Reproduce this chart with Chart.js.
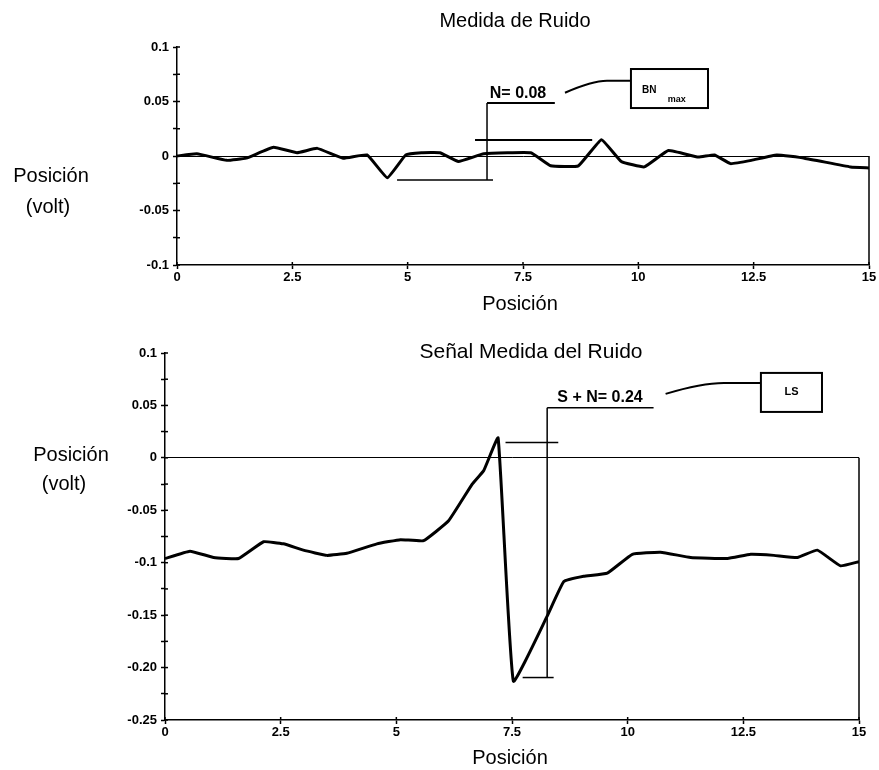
<!DOCTYPE html>
<html>
<head>
<meta charset="utf-8">
<script src="https://cdn.jsdelivr.net/npm/chart.js@4.4.1/dist/chart.umd.min.js"></script>
<style>
  body { margin: 0; background: #fff; }
  #wrap { position: relative; width: 879px; height: 770px; }
  canvas { position: absolute; left: 0; }
</style>
</head>
<body>
<div id="wrap">
  <canvas id="ruido" width="879" height="330" style="top:0"></canvas>
  <canvas id="senal" width="879" height="440" style="top:330px"></canvas>
</div>
<script>
// Medida de Ruido: posicion y lectura (volt)
var ruidoPos  = [0, 0.43, 1.08, 1.5, 2.09, 2.6, 3.04, 3.6, 4.12, 4.56, 4.96, 5.3, 5.7, 6.1, 6.65, 7.67, 8.1, 8.7, 9.2, 9.63, 10.13, 10.65, 11.3, 11.65, 12.0, 12.45, 13.0, 13.6, 14.6, 15];
var ruidoVolt = [0, 0.002, -0.004, -0.002, 0.008, 0.003, 0.007, -0.002, 0.001, -0.02, 0.001, 0.003, 0.003, -0.005, 0.002, 0.003, -0.009, -0.009, 0.015, -0.005, -0.01, 0.005, -0.001, 0.001, -0.007, -0.004, 0.001, -0.002, -0.01, -0.011];

// Señal Medida del Ruido
var senalPos  = [0, 0.54, 1.05, 1.59, 2.13, 2.56, 2.99, 3.5, 3.93, 4.58, 5.09, 5.59, 6.13, 6.64, 6.89, 7.2, 7.53, 8.26, 8.62, 9.05, 9.56, 10.1, 10.71, 11.36, 12.16, 12.66, 13.16, 13.67, 14.1, 14.6, 15];
var senalVolt = [-0.096, -0.089, -0.095, -0.096, -0.08, -0.082, -0.088, -0.093, -0.091, -0.082, -0.078, -0.079, -0.06, -0.025, -0.012, 0.019, -0.213, -0.151, -0.118, -0.113, -0.11, -0.092, -0.09, -0.095, -0.096, -0.092, -0.093, -0.095, -0.088, -0.103, -0.099];

// etiquetas de los ejes
var xTicks = [0, 2.5, 5, 7.5, 10, 12.5, 15];
var xTickLabels = ['0', '2.5', '5', '7.5', '10', '12.5', '15'];
var ruidoYTicks = [0.1, 0.05, 0, -0.05, -0.1];
var ruidoYTickLabels = ['0.1', '0.05', '0', '-0.05', '-0.1'];
var senalYTicks = [0.1, 0.05, 0, -0.05, -0.1, -0.15, -0.2, -0.25];
var senalYTickLabels = ['0.1', '0.05', '0', '-0.05', '-0.1', '-0.15', '-0.20', '-0.25'];

var FAMILY = '"Liberation Sans", Arial, sans-serif';
var tickFont = { family: FAMILY, size: 13, weight: 'bold' };

function etiqueta(valores, textos) {
  return function(value) {
    for (var i = 0; i < valores.length; i++) {
      if (Math.abs(valores[i] - value) < 1e-9) return textos[i];
    }
    return '';
  };
}

function seg(ctx, x1, y1, x2, y2, w) {
  ctx.lineWidth = w;
  ctx.beginPath();
  ctx.moveTo(x1, y1);
  ctx.lineTo(x2, y2);
  ctx.stroke();
}

function texto(ctx, t, x, y, font, align, base) {
  ctx.font = font;
  ctx.textAlign = align || 'center';
  ctx.textBaseline = base || 'middle';
  ctx.fillText(t, x, y);
}

function crearGrafico(id, pos, volt, cfg) {
  var datos = pos.map(function(p, i) { return { x: p, y: volt[i] }; });
  return new Chart(document.getElementById(id), {
    type: 'line',
    data: {
      datasets: [{
        data: datos,
        borderColor: '#000',
        borderWidth: 3,
        pointRadius: 0,
        tension: 0.1,
        fill: false
      }]
    },
    options: {
      responsive: false,
      animation: false,
      layout: { padding: cfg.padding },
      plugins: { legend: { display: false }, tooltip: { enabled: false } },
      scales: {
        x: {
          type: 'linear', min: 0, max: 15,
          ticks: { stepSize: 2.5, autoSkip: false, maxRotation: 0, padding: 1, color: '#000', font: tickFont,
                   callback: etiqueta(xTicks, xTickLabels) },
          grid: { drawOnChartArea: false, tickLength: 4, tickColor: '#000', tickWidth: 1.5 },
          border: { color: '#000', width: 1.5 },
          afterFit: function(s) { s.height = cfg.xHeight; }
        },
        y: {
          min: cfg.yMin, max: cfg.yMax,
          ticks: { stepSize: 0.025, autoSkip: false, padding: cfg.yPad, color: '#000', font: tickFont,
                   callback: etiqueta(cfg.yTicks, cfg.yLabels) },
          grid: {
            color: function(c) { return c.tick && Math.abs(c.tick.value) < 1e-9 ? '#000' : 'rgba(0,0,0,0)'; },
            lineWidth: 1, tickLength: 4, tickColor: '#000', tickWidth: 1.5
          },
          border: { color: '#000', width: 1.5 },
          afterFit: function(s) { s.width = cfg.yWidth; }
        }
      }
    },
    plugins: [{
      id: 'anotaciones',
      afterDatasetsDraw: function(chart) {
        var ctx = chart.ctx, sx = chart.scales.x, sy = chart.scales.y;
        var X = function(v) { return sx.getPixelForValue(v); };
        var Y = function(v) { return sy.getPixelForValue(v); };
        ctx.save();
        ctx.strokeStyle = '#000';
        ctx.fillStyle = '#000';
        // marcas de division hacia dentro
        sy.ticks.forEach(function(t) { seg(ctx, sx.left, Y(t.value), sx.left + 3, Y(t.value), 1.5); });
        sx.ticks.forEach(function(t) { seg(ctx, X(t.value), sy.bottom, X(t.value), sy.bottom - 3, 1.5); });
        // borde derecho desde la linea cero
        seg(ctx, X(15), Y(0), X(15), Y(cfg.yMin), 1.5);
        cfg.dibujar(ctx, X, Y);
        ctx.restore();
      }
    }]
  });
}

crearGrafico('ruido', ruidoPos, ruidoVolt, {
  padding: { left: 0, right: 10, top: 47, bottom: 0 },
  xHeight: 65, yWidth: 177, yPad: 4,
  yMin: -0.1, yMax: 0.1,
  yTicks: ruidoYTicks, yLabels: ruidoYTickLabels,
  dibujar: function(ctx, X, Y) {
    texto(ctx, 'Medida de Ruido', 515, 21, '20px ' + FAMILY);
    texto(ctx, 'Posición', 520, 304, '20px ' + FAMILY);
    texto(ctx, 'Posición', 51, 176, '20px ' + FAMILY);
    texto(ctx, '(volt)', 48, 207, '20px ' + FAMILY);
    // N = 0.08
    seg(ctx, X(6.46), Y(0.0147), X(9.0), Y(0.0147), 2);
    seg(ctx, X(4.77), Y(-0.022), X(6.85), Y(-0.022), 1.5);
    seg(ctx, X(6.72), Y(-0.022), X(6.72), Y(0.0486), 1.5);
    seg(ctx, X(6.72), Y(0.0486), X(8.19), Y(0.0486), 2);
    texto(ctx, 'N= 0.08', X(6.78), Y(0.053), 'bold 16px ' + FAMILY, 'left', 'alphabetic');
    ctx.lineWidth = 2;
    ctx.beginPath();
    ctx.moveTo(X(8.41), Y(0.058));
    ctx.quadraticCurveTo(X(9.0), Y(0.069), X(9.32), Y(0.069));
    ctx.lineTo(X(9.84), Y(0.069));
    ctx.stroke();
    ctx.lineWidth = 2;
    ctx.strokeRect(X(9.84), Y(0.0798), X(11.51) - X(9.84), Y(0.044) - Y(0.0798));
    texto(ctx, 'BN', X(10.08), Y(0.058), 'bold 10px ' + FAMILY, 'left', 'alphabetic');
    texto(ctx, 'max', X(10.64), Y(0.0495), 'bold 9px ' + FAMILY, 'left', 'alphabetic');
  }
});

crearGrafico('senal', senalPos, senalVolt, {
  padding: { left: 0, right: 20, top: 23, bottom: 0 },
  xHeight: 50, yWidth: 165, yPad: 4,
  yMin: -0.25, yMax: 0.1,
  yTicks: senalYTicks, yLabels: senalYTickLabels,
  dibujar: function(ctx, X, Y) {
    texto(ctx, 'Señal Medida del Ruido', 531, 22, '21px ' + FAMILY);
    texto(ctx, 'Posición', 510, 428, '20px ' + FAMILY);
    texto(ctx, 'Posición', 71, 125, '20px ' + FAMILY);
    texto(ctx, '(volt)', 64, 154, '20px ' + FAMILY);
    // S + N = 0.24
    seg(ctx, X(7.36), Y(0.0146), X(8.5), Y(0.0146), 1.5);
    seg(ctx, X(7.73), Y(-0.2095), X(8.4), Y(-0.2095), 1.5);
    seg(ctx, X(8.26), Y(-0.2095), X(8.26), Y(0.0479), 1.5);
    seg(ctx, X(8.26), Y(0.0479), X(10.56), Y(0.0479), 1.5);
    texto(ctx, 'S + N= 0.24', X(8.48), Y(0.0533), 'bold 16px ' + FAMILY, 'left', 'alphabetic');
    ctx.lineWidth = 2;
    ctx.beginPath();
    ctx.moveTo(X(10.82), Y(0.061));
    ctx.quadraticCurveTo(X(11.6), Y(0.0714), X(12.08), Y(0.0714));
    ctx.lineTo(X(12.88), Y(0.0714));
    ctx.stroke();
    ctx.lineWidth = 2;
    ctx.strokeRect(X(12.88), Y(0.081), X(14.2) - X(12.88), Y(0.0438) - Y(0.081));
    texto(ctx, 'LS', X(13.54), Y(0.063), 'bold 11px ' + FAMILY);
  }
});
</script>
</body>
</html>
